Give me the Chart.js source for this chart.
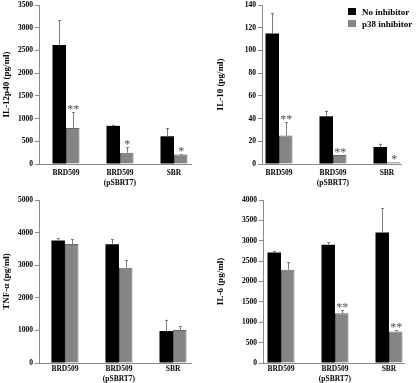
<!DOCTYPE html>
<html>
<head>
<meta charset="utf-8">
<script src="https://cdn.jsdelivr.net/npm/chart.js@4/dist/chart.umd.min.js"></script>
<style>
  html, body { margin: 0; padding: 0; background: #fff; }
  #wrap { position: relative; width: 416px; height: 383px; overflow: hidden; }
  canvas { position: absolute; }
  #legend { position: absolute; left: 348px; top: 6px; font: bold 9px 'Liberation Serif', serif; color: #000; }
  #legend div { height: 12px; line-height: 12px; white-space: nowrap; }
  #legend span.box { display: inline-block; width: 8px; height: 7px; margin-right: 6px; }
</style>
</head>
<body>
<div id="wrap">
  <canvas id="c1" width="208" height="190" style="left:0;top:0"></canvas>
  <canvas id="c2" width="208" height="190" style="left:208px;top:0"></canvas>
  <canvas id="c3" width="208" height="193" style="left:0;top:190px"></canvas>
  <canvas id="c4" width="208" height="193" style="left:208px;top:190px"></canvas>
  <div id="legend">
    <div><span class="box" style="background:#000"></span>No inhibitor</div>
    <div><span class="box" style="background:#858585"></span>p38 inhibitor</div>
  </div>
</div>
<script>
// ---------- data ----------
const categories = [["BRD509"], ["BRD509", "(pSBRT7)"], ["SBR"]];
const seriesNames = ["No inhibitor", "p38 inhibitor"];

// IL-12p40 (pg/ml)
const il12_none = [2620, 840, 610];
const il12_none_err = [550, 25, 180];
const il12_p38 = [790, 250, 210];
const il12_p38_err = [360, 120, 10];
const il12_sig = ["**", "*", "*"];
const il12_ticks = [0, 500, 1000, 1500, 2000, 2500, 3000, 3500];

// IL-10 (pg/ml)
const il10_none = [115, 42, 15];
const il10_none_err = [18, 5, 3];
const il10_p38 = [25, 8, 1.5];
const il10_p38_err = [12, 0, 0];
const il10_sig = ["**", "**", "*"];
const il10_ticks = [0, 20, 40, 60, 80, 100, 120, 140];

// TNF-α (pg/ml)
const tnf_none = [3760, 3640, 980];
const tnf_none_err = [60, 160, 350];
const tnf_p38 = [3650, 2920, 1010];
const tnf_p38_err = [150, 230, 110];
const tnf_sig = ["", "", ""];
const tnf_ticks = [0, 1000, 2000, 3000, 4000, 5000];

// IL-6 (pg/ml)
const il6_none = [2710, 2900, 3200];
const il6_none_err = [30, 60, 600];
const il6_p38 = [2290, 1220, 770];
const il6_p38_err = [180, 75, 40];
const il6_sig = ["", "**", "**"];
const il6_ticks = [0, 500, 1000, 1500, 2000, 2500, 3000, 3500, 4000];

// ---------- style ----------
const AXIS = '#8a8a8a';
const BLACK = '#000000';
const GRAY = '#858585';
const FONT = "'Liberation Serif', 'Times New Roman', serif";

const errorBarPlugin = {
  id: 'errbars',
  afterDatasetsDraw(chart) {
    const ctx = chart.ctx;
    const y = chart.scales.y;
    ctx.save();
    chart.data.datasets.forEach((ds, di) => {
      const meta = chart.getDatasetMeta(di);
      meta.data.forEach((el, i) => {
        const v = ds.data[i].y;
        const e = ds.errors[i];
        const top = y.getPixelForValue(v + e);
        const xc = Math.round(el.x);
        if (e > 0) {
          ctx.strokeStyle = '#7a7a7a';
          ctx.lineWidth = 1;
          ctx.beginPath();
          ctx.moveTo(xc + 0.5, el.y);
          ctx.lineTo(xc + 0.5, top);
          ctx.moveTo(xc - 1, Math.round(top) + 0.5);
          ctx.lineTo(xc + 2, Math.round(top) + 0.5);
          ctx.stroke();
        }
        const s = ds.sig ? ds.sig[i] : '';
        if (s) {
          ctx.fillStyle = '#505050';
          ctx.font = "12px " + FONT;
          ctx.textAlign = 'center';
          ctx.textBaseline = 'middle';
          ctx.fillText(s, el.x + 0.5, top - 2);
        }
      });
    });
    ctx.restore();
  }
};

function pts(arr) { return arr.map((v, i) => ({ x: i, y: v })); }

function makePanel(id, title, none, noneErr, p38, p38Err, sig, ticks, lay) {
  const yMax = ticks[ticks.length - 1];
  return new Chart(document.getElementById(id), {
    type: 'bar',
    data: {
      datasets: [
        { label: seriesNames[0], data: pts(none), errors: noneErr, sig: null,
          backgroundColor: BLACK, borderColor: BLACK, borderWidth: 0 },
        { label: seriesNames[1], data: pts(p38), errors: p38Err, sig: sig,
          backgroundColor: GRAY, borderColor: '#666', borderWidth: 1 }
      ]
    },
    options: {
      responsive: false,
      animation: false,
      devicePixelRatio: 1,
      categoryPercentage: 0.5,
      barPercentage: 1.0,
      layout: { padding: { left: lay.padLeft, right: lay.padRight, top: lay.padTop, bottom: 0 } },
      plugins: { legend: { display: false }, tooltip: { enabled: false } },
      scales: {
        x: {
          type: 'linear',
          offset: false,
          min: lay.xMin, max: lay.xMax,
          grid: { display: true, offset: false, drawOnChartArea: false, drawTicks: false, color: 'rgba(0,0,0,0)' },
          border: { display: true, color: AXIS, width: 1 },
          afterFit: (s) => { s.height = lay.xHeight; },
          afterBuildTicks: (s) => { s.ticks = categories.map((c, i) => ({ value: i })); },
          ticks: {
            autoSkip: false, maxRotation: 0, padding: lay.xPad,
            color: '#000',
            font: { family: FONT, size: 7.5, weight: 'bold', lineHeight: 1.3 },
            callback: (v) => (Number.isInteger(v) && categories[v]) ? categories[v] : ''
          }
        },
        y: {
          min: 0, max: yMax,
          afterBuildTicks: (s) => { s.ticks = ticks.map(v => ({ value: v })); },
          afterFit: (s) => { s.width = lay.yWidth; },
          grid: { display: true, drawOnChartArea: false, drawTicks: true, tickLength: 4, color: AXIS },
          border: { display: true, color: AXIS, width: 1 },
          ticks: {
            padding: 2, color: '#000',
            font: { family: FONT, size: 7.5, weight: 'bold', lineHeight: 0.8 },
            callback: (v) => String(v)
          },
          title: {
            display: true, text: title, color: '#000',
            padding: { top: 1, bottom: 0 },
            font: { family: FONT, size: 9, weight: 'bold' }
          }
        }
      }
    },
    plugins: [errorBarPlugin]
  });
}

makePanel('c1', 'IL-12p40 (pg/ml)', il12_none, il12_none_err, il12_p38, il12_p38_err, il12_sig, il12_ticks,
  { padLeft: 0, padRight: 17, padTop: 0, yWidth: 39, xHeight: 26, xPad: 4, xMin: -0.5, xMax: 2.315 });
makePanel('c2', 'IL-10 (pg/ml)', il10_none, il10_none_err, il10_p38, il10_p38_err, il10_sig, il10_ticks,
  { padLeft: 6, padRight: 15, padTop: 0, yWidth: 48, xHeight: 26, xPad: 4, xMin: -0.315, xMax: 2.26 });
makePanel('c3', 'TNF-α (pg/ml)', tnf_none, tnf_none_err, tnf_p38, tnf_p38_err, tnf_sig, tnf_ticks,
  { padLeft: 0, padRight: 17, padTop: 10, yWidth: 39, xHeight: 20, xPad: 1, xMin: -0.48, xMax: 2.333 });
makePanel('c4', 'IL-6 (pg/ml)', il6_none, il6_none_err, il6_p38, il6_p38_err, il6_sig, il6_ticks,
  { padLeft: 6, padRight: 12, padTop: 10, yWidth: 49, xHeight: 20, xPad: 1, xMin: -0.333, xMax: 2.278 });
</script>
</body>
</html>
